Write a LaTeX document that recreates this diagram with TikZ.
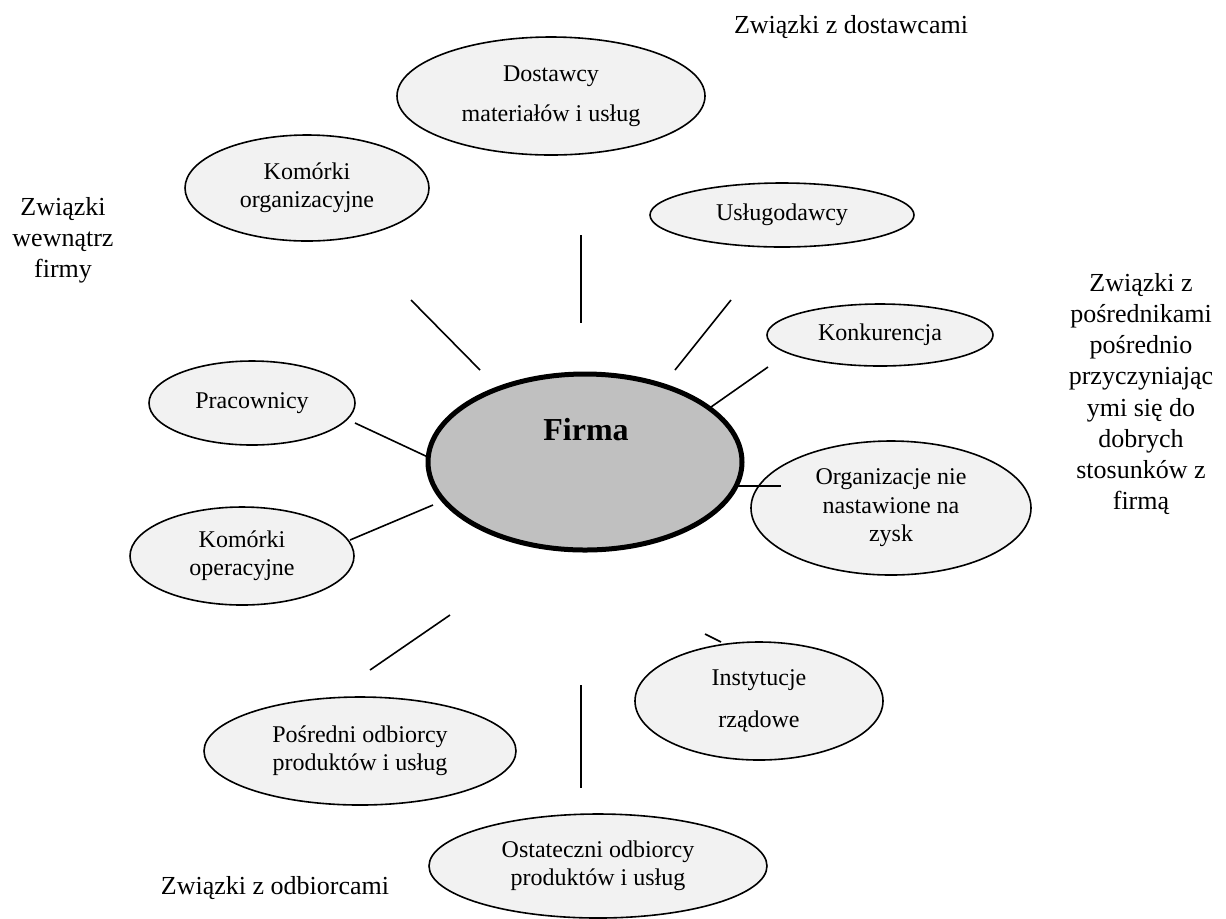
\documentclass[tikz,border=0pt]{standalone}
\usepackage{fontspec}
\setmainfont{Liberation Serif}
\usetikzlibrary{shapes.geometric}
\definecolor{jasny}{HTML}{F2F2F2}
\definecolor{szary}{HTML}{C0C0C0}
\begin{document}
\begin{tikzpicture}[x=0.5pt,y=-0.5pt,line join=round,
	el/.style={ellipse,draw,line width=0.8pt,fill=jasny,inner sep=0pt,align=center,font=\fontsize{12}{14.2}\selectfont},
	opis/.style={align=center,font=\fontsize{13}{15.6}\selectfont}]
	\useasboundingbox (0,0) rectangle (1226,918);
	% centrum
	\node[el,fill=szary,line width=2.5pt,minimum width=157pt,minimum height=88pt] (firma) at (585,462) {};
	\node[font=\fontsize{16}{18}\selectfont\bfseries] (firmat) at (586,430) {Firma};
	% otoczenie
	\node[el,minimum width=154pt,minimum height=59pt] (dost) at (551,96) {Dostawcy\\[6pt]materiałów i usług};
	\node[el,minimum width=122pt,minimum height=53pt] (korg) at (307,188) {Komórki\\organizacyjne};
	\node[el,minimum width=132pt,minimum height=32pt] (usl) at (782,215) {Usługodawcy};
	\node[el,minimum width=113pt,minimum height=31pt] (konk) at (880,335) {Konkurencja};
	\node[el,minimum width=103pt,minimum height=42pt] (prac) at (252,403) {Pracownicy};
	\node[el,minimum width=140pt,minimum height=67pt] (org) at (891,508) {Organizacje nie\\nastawione na\\zysk};
	\node[el,minimum width=112pt,minimum height=49pt] (kop) at (242,556) {Komórki\\operacyjne};
	\node[el,minimum width=124pt,minimum height=59pt] (inst) at (759,701) {Instytucje\\[7pt]rządowe};
	\node[el,minimum width=156pt,minimum height=54pt] (posr) at (360,751) {Pośredni odbiorcy\\produktów i usług};
	\node[el,minimum width=169pt,minimum height=52pt] (ost) at (598,866) {Ostateczni odbiorcy\\produktów i usług};
	% opisy grup
	\node[opis] (zdost) at (851,27) {Związki z dostawcami};
	\node[opis] (zwewn) at (63,240) {Związki\\wewnątrz\\firmy};
	\node[opis] (zposr) at (1141,394) {Związki z\\pośrednikami\\pośrednio\\przyczyniając\\ymi się do\\dobrych\\stosunków z\\firmą};
	\node[opis] (zodb) at (275,888) {Związki z odbiorcami};
	% linie
	\foreach \i/\p/\q in {1/{411,300}/{480,370},2/{581,235}/{581,323},3/{731,300}/{675,370},
		4/{768,367}/{711,407},5/{355,423}/{430,458},6/{433,505}/{350,540},7/{737,486}/{781,486},
		8/{450,615}/{370,670},9/{705,634}/{721,642},10/{581,685}/{581,788}}{
		\coordinate (l\i a) at (\p);
		\coordinate (l\i b) at (\q);
		\draw[line width=0.8pt] (l\i a)--(l\i b);
	}
\end{tikzpicture}
\end{document}
